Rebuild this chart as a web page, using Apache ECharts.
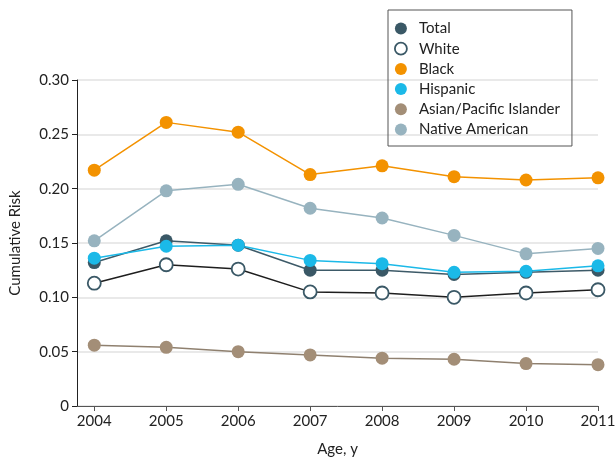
<!DOCTYPE html>
<html><head><meta charset="utf-8">
<script src="https://cdn.jsdelivr.net/npm/echarts@6/dist/echarts.min.js"></script>
<style>html,body{margin:0;padding:0;background:#fff}#c{width:615px;height:457px}</style>
</head><body><div id="c"></div>
<script>
const years = [2004, 2005, 2006, 2007, 2008, 2009, 2010, 2011];
const total = [0.132, 0.152, 0.148, 0.125, 0.125, 0.121, 0.123, 0.125];
const white = [0.113, 0.130, 0.126, 0.105, 0.104, 0.100, 0.104, 0.107];
const black = [0.217, 0.261, 0.252, 0.213, 0.221, 0.211, 0.208, 0.210];
const hispanic = [0.136, 0.147, 0.148, 0.134, 0.131, 0.123, 0.124, 0.129];
const asian = [0.056, 0.054, 0.050, 0.047, 0.044, 0.043, 0.039, 0.038];
const native = [0.152, 0.198, 0.204, 0.182, 0.173, 0.157, 0.140, 0.145];
const yTicks = [0, 0.05, 0.10, 0.15, 0.20, 0.25, 0.30];

const FONT = 'Lato';
function mk(name, vals, lineColor, fill, border) {
  return {
    name: name, type: 'line',
    data: years.map((y, i) => [y, vals[i]]),
    symbol: 'circle', symbolSize: 13,
    lineStyle: { color: lineColor, width: 1.5 },
    itemStyle: { color: fill, borderColor: border || fill, borderWidth: border ? 1.8 : 0 },
    emphasis: { disabled: true },
    animation: false
  };
}
const chart = echarts.init(document.getElementById('c'), null, { renderer: 'canvas' });
chart.setOption({
  animation: false,
  textStyle: { fontFamily: FONT },
  grid: { left: 77, right: 17, top: 80, bottom: 51, containLabel: false, outerBoundsMode: 'none' },
  legend: {
    orient: 'vertical', left: 388, top: 10,
    padding: [11, 12, 9, 6],
    borderColor: '#555', borderWidth: 1,
    itemWidth: 12, itemHeight: 12, itemGap: 5.2,
    icon: 'circle',
    textStyle: { fontFamily: FONT, fontSize: 15, color: '#222', padding: [0, 0, 0, 7] },
    data: [
      { name: 'Total', itemStyle: { color: '#3a5866' } },
      { name: 'White', itemStyle: { color: '#fff', borderColor: '#3a5866', borderWidth: 1.8 } },
      { name: 'Black', itemStyle: { color: '#f39200' } },
      { name: 'Hispanic', itemStyle: { color: '#1bb9e8' } },
      { name: 'Asian/Pacific Islander', itemStyle: { color: '#a38e77' } },
      { name: 'Native American', itemStyle: { color: '#97b3bf' } }
    ]
  },
  xAxis: {
    type: 'value', min: 2003.76, max: 2011,
    name: 'Age, y', nameLocation: 'middle', nameGap: 36,
    nameTextStyle: { fontFamily: FONT, fontSize: 15, color: '#222' },
    axisLine: { lineStyle: { color: '#555', width: 1 } },
    axisTick: { show: true, length: 5, lineStyle: { color: '#555' }, customValues: years },
    axisLabel: { customValues: years, fontFamily: FONT, fontSize: 15, color: '#222', margin: 8, formatter: v => String(v) },
    splitLine: { show: false }
  },
  yAxis: {
    type: 'value', min: 0, max: 0.30, interval: 0.05,
    name: 'Cumulative Risk', nameLocation: 'middle', nameGap: 54,
    nameTextStyle: { fontFamily: FONT, fontSize: 15, color: '#222' },
    axisLine: { show: true, lineStyle: { color: '#222', width: 1 } },
    axisTick: { show: true, length: 5, lineStyle: { color: '#222' } },
    axisLabel: { fontFamily: FONT, fontSize: 15, color: '#222', margin: 8,
      formatter: v => v === 0 ? '0' : v.toFixed(2) },
    splitLine: { show: true, lineStyle: { color: '#e2e2e2', width: 1.5 } }
  },
  series: [
    mk('Total', total, '#3d5a68', '#3a5866'),
    mk('White', white, '#1e1e1e', '#fff', '#3a5866'),
    mk('Black', black, '#f39200', '#f39200'),
    mk('Hispanic', hispanic, '#1bb9e8', '#1bb9e8'),
    mk('Asian/Pacific Islander', asian, '#8f806f', '#a38e77'),
    mk('Native American', native, '#97b3bf', '#97b3bf')
  ]
});
</script></body></html>
